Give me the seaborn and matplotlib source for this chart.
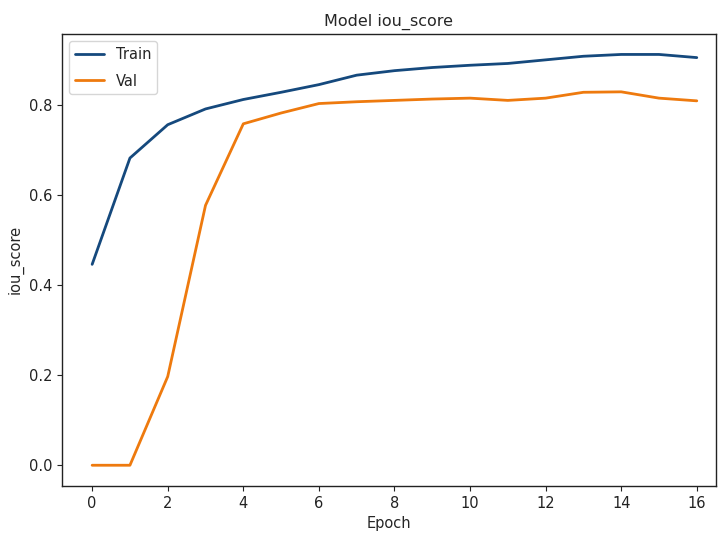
import matplotlib
matplotlib.use("Agg")
import matplotlib.pyplot as plt
import seaborn as sns
import pandas as pd

epochs = list(range(17))
train_iou = [0.446, 0.682, 0.756, 0.791, 0.812, 0.828, 0.845, 0.866, 0.876, 0.883,
             0.888, 0.892, 0.900, 0.908, 0.912, 0.912, 0.905]
val_iou = [0.0, 0.0, 0.197, 0.577, 0.758, 0.782, 0.803, 0.807, 0.810, 0.813,
           0.815, 0.810, 0.815, 0.828, 0.829, 0.815, 0.809]
series_names = ["Train", "Val"]
colors = ["#15497d", "#ee7a0e"]

df = pd.DataFrame({
    "Epoch": epochs * 2,
    "iou_score": train_iou + val_iou,
    "series": [series_names[0]] * len(epochs) + [series_names[1]] * len(epochs),
})

sns.set_style("ticks")
plt.rcParams["font.family"] = ["DejaVu Sans"]

fig = plt.figure(figsize=(7.2, 5.44), dpi=100)
ax = fig.add_axes([0.086, 0.107, 0.908, 0.831])
sns.lineplot(data=df, x="Epoch", y="iou_score", hue="series",
             palette=dict(zip(series_names, colors)), linewidth=2.0, ax=ax)
for s in ax.spines.values():
    s.set_visible(True)
    s.set_color("#222222")
    s.set_linewidth(1.0)
ax.set_xlim(-0.8, 16.5)
ax.set_ylim(-0.0456, 0.958)
ax.set_xticks(range(0, 17, 2))
ax.set_yticks([0.0, 0.2, 0.4, 0.6, 0.8])
ax.tick_params(labelsize=10.5, colors="#222222")
ax.set_title("Model iou_score", fontsize=11.5, pad=6)
ax.set_xlabel("Epoch", fontsize=10.5)
ax.set_ylabel("iou_score", fontsize=10.5)
leg = ax.legend(loc="upper left", fontsize=10.5, frameon=True, labelspacing=0.8)
leg.get_frame().set_edgecolor("#cccccc")
fig.savefig("out.png", dpi=100)
